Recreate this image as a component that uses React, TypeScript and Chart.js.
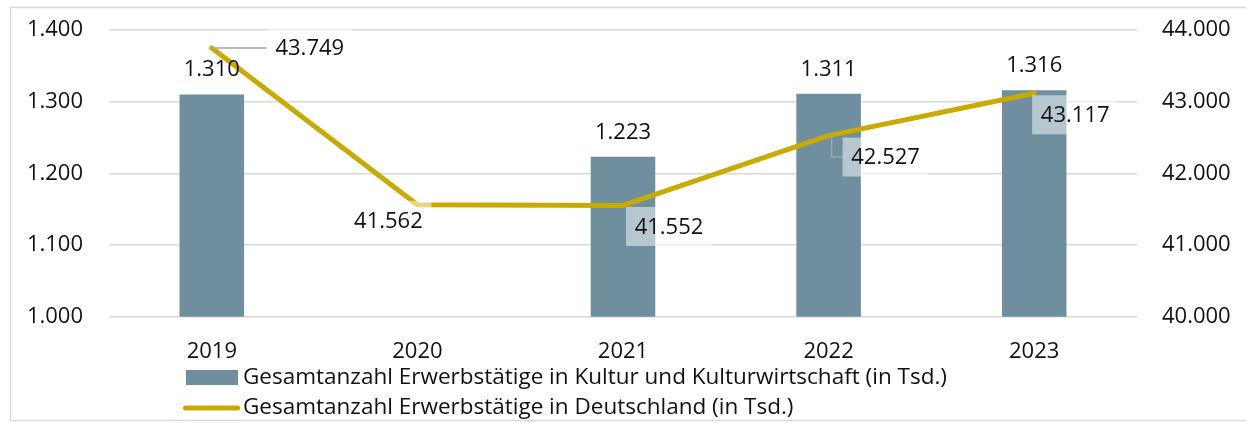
import React, { useEffect, useRef } from "react";
import { Chart, registerables } from "chart.js";

Chart.register(...registerables);

const categories = ["2019", "2020", "2021", "2022", "2023"];
const kulturValues: (number | null)[] = [1310, null, 1223, 1311, 1316];
const deutschlandValues = [43749, 41562, 41552, 42527, 43117];
const leftTicks = [1000, 1100, 1200, 1300, 1400];
const rightTicks = [40000, 41000, 42000, 43000, 44000];
const seriesNames = [
  "Gesamtanzahl Erwerbstätige in Kultur und Kulturwirtschaft (in Tsd.)",
  "Gesamtanzahl Erwerbstätige in Deutschland (in Tsd.)",
];

// label placement (style only): offset of label centre from the point
const lineLabelPlacement = [
  { dx: 98, dy: 0, leader: "h" },
  { dx: -29, dy: 15.5, leader: "" },
  { dx: 46, dy: 21, leader: "" },
  { dx: 57, dy: 21.5, leader: "l" },
  { dx: 41, dy: 21.5, leader: "" },
];

const FONT = "'Open Sans', sans-serif";
const BAR_COLOR = "#6F8F9E";
const LINE_COLOR = "#C9AB00";
const TEXT_COLOR = "#111111";

const fmt = (n: number) =>
  String(Math.round(n)).replace(/\B(?=(\d{3})+(?!\d))/g, ".");

const labelsPlugin = {
  id: "customLabels",
  afterDatasetsDraw(chart: any) {
    const ctx = chart.ctx;
    ctx.save();
    ctx.font = `22px ${FONT}`;
    ctx.textAlign = "center";
    ctx.textBaseline = "middle";
    // line labels
    const lineMeta = chart.getDatasetMeta(1);
    lineMeta.data.forEach((pt: any, i: number) => {
      const v = deutschlandValues[i];
      const p = lineLabelPlacement[i];
      const cx = pt.x + p.dx;
      const cy = pt.y + p.dy;
      const bw = 86;
      const bh = 39;
      const bx = cx - bw / 2;
      const by = cy - bh / 2;
      if (p.leader) {
        ctx.strokeStyle = "#A6A6A6";
        ctx.lineWidth = 1.5;
        ctx.beginPath();
        if (p.leader === "h") {
          ctx.moveTo(pt.x, pt.y);
          ctx.lineTo(bx, cy);
        } else {
          ctx.moveTo(pt.x + 3, pt.y);
          ctx.lineTo(pt.x + 3, cy);
          ctx.lineTo(bx, cy);
        }
        ctx.stroke();
      }
      ctx.fillStyle = "rgba(255,255,255,0.5)";
      ctx.fillRect(bx, by, bw, bh);
      ctx.fillStyle = TEXT_COLOR;
      ctx.fillText(fmt(v), cx, cy + 1);
    });
    // bar labels
    const barMeta = chart.getDatasetMeta(0);
    barMeta.data.forEach((bar: any, i: number) => {
      const v = kulturValues[i];
      if (v == null) return;
      ctx.fillStyle = TEXT_COLOR;
      ctx.fillText(fmt(v), bar.x, bar.y - 24.5);
    });
    ctx.restore();
  },
  afterDraw(chart: any) {
    const ctx = chart.ctx;
    ctx.save();
    // outer border
    ctx.strokeStyle = "#D9D9D9";
    ctx.lineWidth = 1.5;
    ctx.beginPath();
    ctx.moveTo(1250, 7.5);
    ctx.lineTo(10.5, 7.5);
    ctx.lineTo(10.5, 420.5);
    ctx.lineTo(1250, 420.5);
    ctx.stroke();
    // legend
    ctx.fillStyle = BAR_COLOR;
    ctx.fillRect(186, 370, 52, 15);
    ctx.strokeStyle = LINE_COLOR;
    ctx.lineWidth = 5;
    ctx.lineCap = "round";
    ctx.beginPath();
    ctx.moveTo(185.5, 408);
    ctx.lineTo(237.5, 408);
    ctx.stroke();
    ctx.font = `22.5px ${FONT}`;
    ctx.fillStyle = TEXT_COLOR;
    ctx.textAlign = "left";
    ctx.textBaseline = "middle";
    ctx.fillText(seriesNames[0], 243, 378);
    ctx.fillText(seriesNames[1], 243, 407.5);
    ctx.restore();
  },
};

export default function App() {
  const ref = useRef<HTMLCanvasElement | null>(null);
  useEffect(() => {
    document.body.style.margin = "0";
    if (!ref.current) return;
    Chart.defaults.font.family = FONT;
    const chart = new Chart(ref.current, {
      data: {
        labels: categories,
        datasets: [
          {
            type: "bar",
            label: seriesNames[0],
            data: kulturValues,
            backgroundColor: BAR_COLOR,
            yAxisID: "y",
            barPercentage: 0.314,
            categoryPercentage: 1,
            order: 2,
          },
          {
            type: "line",
            label: seriesNames[1],
            data: deutschlandValues,
            borderColor: LINE_COLOR,
            backgroundColor: LINE_COLOR,
            borderWidth: 5,
            pointRadius: 0,
            borderCapStyle: "round",
            borderJoinStyle: "round",
            tension: 0,
            yAxisID: "y1",
            order: 1,
          },
        ],
      } as any,
      options: {
        responsive: false,
        animation: false,
        layout: { padding: { top: 30, bottom: 0, left: 0, right: 0 } },
        plugins: {
          legend: { display: false },
          tooltip: { enabled: false },
        },
        scales: {
          x: {
            offset: true,
            grid: { display: false, drawTicks: false },
            border: { display: false },
            ticks: {
              padding: 22,
              color: TEXT_COLOR,
              font: { size: 22, family: FONT },
              maxRotation: 0,
            },
            afterFit: (s: any) => {
              s.height = 423 - 316.7;
            },
          },
          y: {
            position: "left",
            min: 1000,
            max: 1400,
            afterBuildTicks: (s: any) => {
              s.ticks = leftTicks.map((v) => ({ value: v }));
            },
            grid: { color: "#D9D9D9", lineWidth: 1.5, drawTicks: false },
            border: { display: false },
            ticks: {
              padding: 26,
              color: TEXT_COLOR,
              font: { size: 22, family: FONT },
              callback: (v: any) => fmt(Number(v)),
            },
            afterFit: (s: any) => {
              s.width = 109;
              s.paddingTop = 0;
              s.paddingBottom = 0;
            },
          },
          y1: {
            position: "right",
            min: 40000,
            max: 44000,
            afterBuildTicks: (s: any) => {
              s.ticks = rightTicks.map((v) => ({ value: v }));
            },
            grid: { display: false, drawTicks: false },
            border: { display: false },
            ticks: {
              padding: 25,
              color: TEXT_COLOR,
              font: { size: 22, family: FONT },
              callback: (v: any) => fmt(Number(v)),
            },
            afterFit: (s: any) => {
              s.width = 1246 - 1137;
              s.paddingTop = 0;
              s.paddingBottom = 0;
            },
          },
        },
      },
      plugins: [labelsPlugin],
    });
    return () => chart.destroy();
  }, []);
  return (
    <div style={{ width: 1246, height: 423 }}>
      <canvas ref={ref} width={1246} height={423} />
    </div>
  );
}
